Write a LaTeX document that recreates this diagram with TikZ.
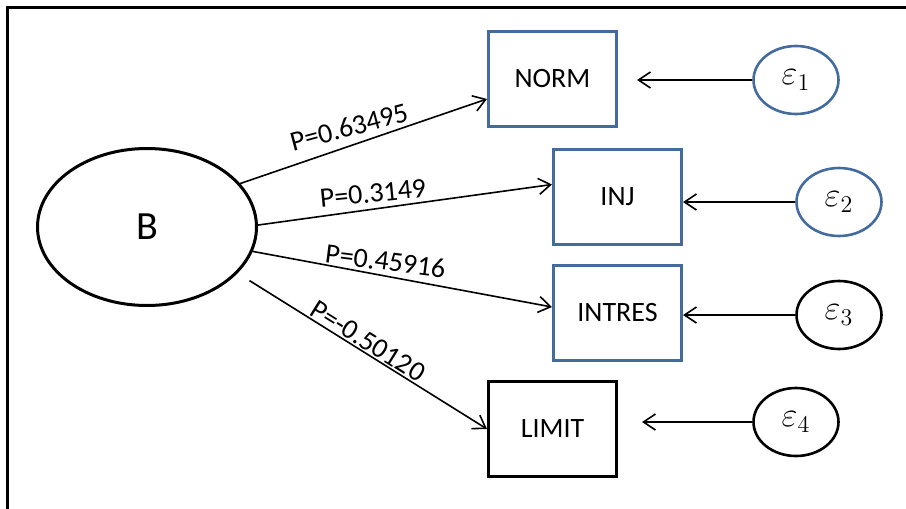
\documentclass[tikz,border=0pt]{standalone}
\usepackage{fontspec}
\setmainfont{Carlito}
\usetikzlibrary{arrows.meta,shapes.geometric}
\definecolor{boxblue}{RGB}{68,107,158}

\begin{document}
\begin{tikzpicture}[x=0.5pt,y=-0.5pt,
        box/.style={draw,rectangle,line width=1.5pt,minimum width=64pt,minimum height=47.5pt,inner sep=0pt,font=\fontsize{14}{17}\selectfont},
        err/.style={draw,ellipse,line width=1.3pt,minimum width=42.5pt,minimum height=34pt,inner sep=0pt,font=\fontsize{18}{20}\selectfont},
        link/.style={-{Straight Barb[length=6pt,width=8pt]},line width=0.8pt},
        coef/.style={inner sep=1pt,font=\fontsize{14}{17}\selectfont}]
                \useasboundingbox (0,0) rectangle (906,509);
                \draw[line width=1.5pt] (7.5,509) -- (7.5,7.5) -- (906,7.5);

                \node[draw,ellipse,line width=1.5pt,minimum width=109.5pt,minimum height=78.5pt,font=\fontsize{20}{24}\selectfont] (B) at (147,227) {B};

                \node[box,draw=boxblue] (NORM) at (552.5,79) {NORM};
                \node[box,draw=boxblue] (INJ) at (617.5,196.5) {INJ};
                \node[box,draw=boxblue] (INTRES) at (617.5,313) {INTRES};
                \node[box] (LIMIT) at (552.5,429) {LIMIT};

                \node[err,draw=boxblue] (e1) at (796,80) {$\varepsilon_1$};
                \node[err,draw=boxblue] (e2) at (839,202) {$\varepsilon_2$};
                \node[err] (e3) at (839,315) {$\varepsilon_3$};
                \node[err] (e4) at (796,422) {$\varepsilon_4$};

                \draw[link] (B.25) -- ([yshift=-10pt]NORM.west);
                \draw[link] (B.1) -- ([yshift=6pt]INJ.west);
                \draw[link] (B.-13) -- ([yshift=3pt]INTRES.west);
                \draw[link,shorten <=7pt] (B.-27) -- (LIMIT.west);

                \node[coef,rotate=15] (p1) at (349,127) {P=0.63495};
                \node[coef,rotate=5.7] (p2) at (373,193.5) {P=0.3149};
                \node[coef,rotate=-7.3] (p3) at (385.5,261) {P=0.45916};
                \node[coef,rotate=-32] (p4) at (368,341) {P=-0.50120};

                \draw[link,shorten >=9.5pt] (e1.west) -- (e1.west -| NORM.east);
                \foreach \i/\j in {2/INJ,3/INTRES}
                \draw[link] (e\i.west) -- (e\i.west -| \j.east);
                \draw[link,shorten >=12pt] (e4.west) -- (e4.west -| LIMIT.east);

            \end{tikzpicture}
\end{document}
